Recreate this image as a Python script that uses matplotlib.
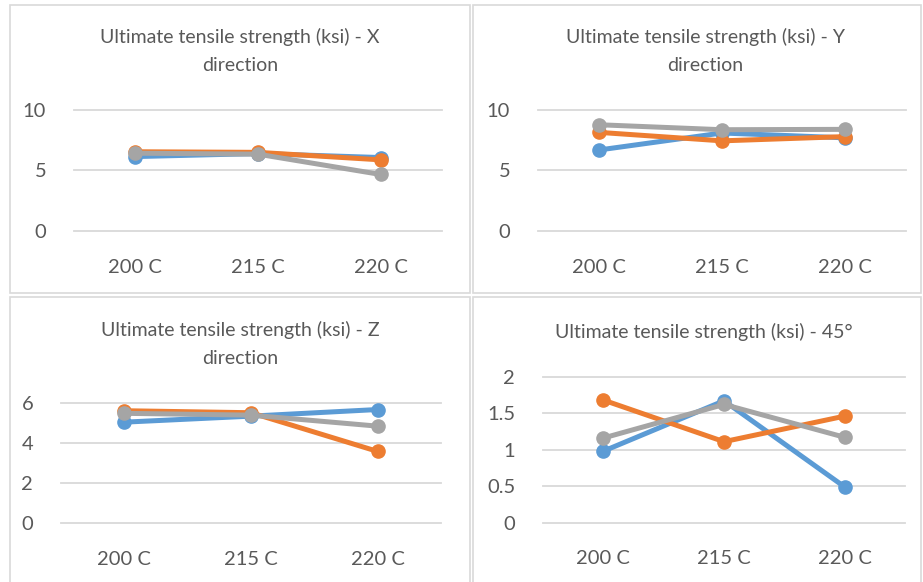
import matplotlib.pyplot as plt
from matplotlib.patches import Rectangle

W, H = 923, 582

categories = ['200 C', '215 C', '220 C']

x_blue = [6.15, 6.4, 6.07]
x_orange = [6.55, 6.5, 5.88]
x_gray = [6.43, 6.35, 4.67]

y_blue = [6.7, 8.1, 7.7]
y_orange = [8.15, 7.45, 7.8]
y_gray = [8.78, 8.37, 8.4]

z_blue = [5.03, 5.33, 5.66]
z_orange = [5.6, 5.5, 3.57]
z_gray = [5.47, 5.38, 4.83]

d45_blue = [0.98, 1.67, 0.49]
d45_orange = [1.68, 1.11, 1.46]
d45_gray = [1.16, 1.62, 1.17]

titles = ['Ultimate tensile strength (ksi) - X\ndirection',
          'Ultimate tensile strength (ksi) - Y\ndirection',
          'Ultimate tensile strength (ksi) - Z\ndirection',
          'Ultimate tensile strength (ksi) - 45°']
yticks = [[0, 5, 10], [0, 5, 10], [0, 2, 4, 6], [0, 0.5, 1, 1.5, 2]]
yticklabels = [['0', '5', '10'], ['0', '5', '10'], ['0', '2', '4', '6'],
               ['0', '0.5', '1', '1.5', '2']]
series = [(x_blue, x_orange, x_gray), (y_blue, y_orange, y_gray),
          (z_blue, z_orange, z_gray), (d45_blue, d45_orange, d45_gray)]

colors = ['#5B9BD5', '#ED7D31', '#A5A5A5']
txt = '#595959'
grid_c = '#D9D9D9'

plt.rcParams['font.family'] = ['Lato', 'DejaVu Sans']

fig = plt.figure(figsize=(W / 100, H / 100), dpi=100)

# panel borders (left, top, right, bottom) in pixels
panels = [(10, 5, 470, 293), (473, 5, 921, 293),
          (10, 297, 470, 590), (473, 297, 921, 590)]
# plot areas (left, top, right, bottom) in pixels
areas = [(74, 110, 442, 231), (538, 110, 906, 231),
         (61, 402.7, 441, 523), (543, 376.7, 905, 522.7)]
title_pos = [(240, 51), (705, 51), (240, 344), (704, 332)]

for i in range(4):
    l, t, r, b = panels[i]
    fig.patches.append(Rectangle((l / W, 1 - b / H), (r - l) / W, (b - t) / H,
                                 transform=fig.transFigure, fill=False,
                                 edgecolor=grid_c, linewidth=1.2))
    l, t, r, b = areas[i]
    ax = fig.add_axes([l / W, 1 - b / H, (r - l) / W, (b - t) / H])
    ax.set_xlim(-0.5, 2.5)
    ax.set_ylim(yticks[i][0], yticks[i][-1])
    for v in yticks[i]:
        ax.axhline(v, color=grid_c, linewidth=1.3, zorder=1, clip_on=False)
    for s, c in zip(series[i], colors):
        ax.plot(range(3), s, color=c, linewidth=3.6, marker='o',
                markersize=9.5, zorder=3, clip_on=False)
    ax.set_xticks(range(3))
    ax.set_xticklabels(categories)
    ax.set_yticks(yticks[i])
    ax.set_yticklabels(yticklabels[i])
    ax.tick_params(length=0, labelsize=14.5, labelcolor=txt)
    ax.tick_params(axis='x', pad=20)
    ax.tick_params(axis='y', pad=20)
    for sp in ax.spines.values():
        sp.set_visible(False)
    ax.patch.set_alpha(0)
    tx, ty = title_pos[i]
    fig.text(tx / W, 1 - ty / H, titles[i], ha='center', va='center',
             fontsize=14, color=txt, linespacing=1.72)

fig.savefig('out.png', dpi=100)
